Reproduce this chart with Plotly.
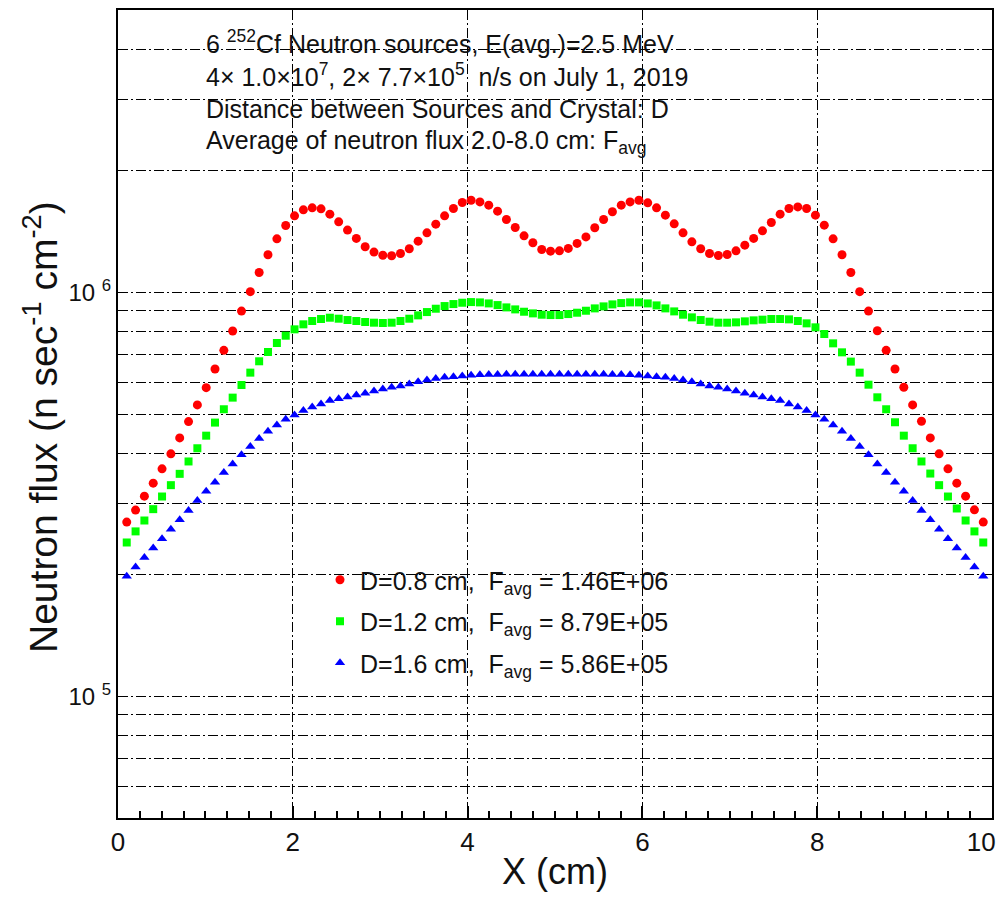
import plotly.graph_objects as go

# sample positions along the crystal (cm)
X = [0.100, 0.201, 0.302, 0.403, 0.504, 0.605, 0.706, 0.807, 0.908, 1.009,
     1.110, 1.211, 1.312, 1.413, 1.514, 1.615, 1.716, 1.818, 1.919, 2.020,
     2.121, 2.222, 2.323, 2.424, 2.525, 2.626, 2.727, 2.828, 2.929, 3.030,
     3.131, 3.232, 3.333, 3.434, 3.535, 3.636, 3.737, 3.838, 3.939, 4.040,
     4.141, 4.242, 4.343, 4.444, 4.545, 4.646, 4.747, 4.848, 4.949,
     5.051, 5.152, 5.253, 5.354, 5.455, 5.556, 5.657, 5.758, 5.859, 5.960,
     6.061, 6.162, 6.263, 6.364, 6.465, 6.566, 6.667, 6.768, 6.869, 6.970,
     7.071, 7.172, 7.273, 7.374, 7.475, 7.576, 7.677, 7.778, 7.879, 7.980,
     8.081, 8.182, 8.284, 8.385, 8.486, 8.587, 8.688, 8.789, 8.890, 8.991,
     9.092, 9.193, 9.294, 9.395, 9.496, 9.597, 9.698, 9.799, 9.900]

FLUX_D08 = [2.700e5, 2.891e5, 3.130e5, 3.371e5, 3.658e5, 3.984e5, 4.363e5, 4.788e5, 5.266e5, 5.810e5,
            6.463e5, 7.186e5, 8.022e5, 8.990e5, 1.004e6, 1.120e6, 1.239e6, 1.357e6, 1.464e6, 1.547e6,
            1.601e6, 1.619e6, 1.610e6, 1.562e6, 1.495e6, 1.426e6, 1.360e6, 1.297e6, 1.258e6, 1.236e6,
            1.232e6, 1.248e6, 1.282e6, 1.339e6, 1.404e6, 1.475e6, 1.547e6, 1.613e6, 1.669e6, 1.691e6,
            1.675e6, 1.644e6, 1.589e6, 1.515e6, 1.447e6, 1.380e6, 1.327e6, 1.277e6, 1.265e6,
            1.267e6, 1.285e6, 1.322e6, 1.372e6, 1.445e6, 1.515e6, 1.583e6, 1.644e6, 1.675e6, 1.691e6,
            1.666e6, 1.619e6, 1.553e6, 1.478e6, 1.404e6, 1.334e6, 1.282e6, 1.248e6, 1.234e6, 1.241e6,
            1.267e6, 1.309e6, 1.360e6, 1.420e6, 1.489e6, 1.562e6, 1.613e6, 1.628e6, 1.613e6, 1.553e6,
            1.467e6, 1.357e6, 1.239e6, 1.120e6, 1.004e6, 8.990e5, 8.037e5, 7.186e5, 6.463e5, 5.822e5,
            5.266e5, 4.797e5, 4.363e5, 3.984e5, 3.658e5, 3.371e5, 3.130e5, 2.896e5, 2.700e5]

FLUX_D12 = [2.404e5, 2.561e5, 2.725e5, 2.907e5, 3.124e5, 3.333e5, 3.555e5, 3.815e5, 4.113e5, 4.419e5,
            4.761e5, 5.137e5, 5.489e5, 5.898e5, 6.329e5, 6.752e5, 7.120e5, 7.494e5, 7.813e5, 8.101e5,
            8.335e5, 8.494e5, 8.591e5, 8.656e5, 8.607e5, 8.542e5, 8.494e5, 8.446e5, 8.414e5, 8.398e5,
            8.414e5, 8.494e5, 8.607e5, 8.772e5, 8.939e5, 9.111e5, 9.250e5, 9.356e5, 9.427e5, 9.463e5,
            9.445e5, 9.391e5, 9.302e5, 9.180e5, 9.076e5, 8.956e5, 8.872e5, 8.805e5, 8.788e5,
            8.788e5, 8.838e5, 8.906e5, 9.007e5, 9.128e5, 9.233e5, 9.338e5, 9.409e5, 9.445e5, 9.445e5,
            9.391e5, 9.285e5, 9.128e5, 8.973e5, 8.805e5, 8.673e5, 8.542e5, 8.462e5, 8.414e5, 8.414e5,
            8.430e5, 8.478e5, 8.526e5, 8.559e5, 8.591e5, 8.591e5, 8.575e5, 8.494e5, 8.382e5, 8.194e5,
            7.888e5, 7.480e5, 7.106e5, 6.740e5, 6.329e5, 5.909e5, 5.499e5, 5.137e5, 4.770e5, 4.419e5,
            4.113e5, 3.815e5, 3.561e5, 3.333e5, 3.124e5, 2.918e5, 2.725e5, 2.561e5, 2.404e5]

FLUX_D16 = [1.982e5, 2.090e5, 2.208e5, 2.328e5, 2.455e5, 2.594e5, 2.736e5, 2.885e5, 3.054e5, 3.221e5,
            3.391e5, 3.582e5, 3.762e5, 3.961e5, 4.153e5, 4.346e5, 4.532e5, 4.697e5, 4.853e5, 4.974e5,
            5.098e5, 5.205e5, 5.296e5, 5.397e5, 5.455e5, 5.511e5, 5.574e5, 5.627e5, 5.702e5, 5.767e5,
            5.822e5, 5.867e5, 5.934e5, 6.013e5, 6.070e5, 6.117e5, 6.163e5, 6.186e5, 6.210e5, 6.240e5,
            6.250e5, 6.260e5, 6.265e5, 6.270e5, 6.270e5, 6.270e5, 6.270e5, 6.270e5, 6.270e5,
            6.270e5, 6.270e5, 6.270e5, 6.270e5, 6.270e5, 6.270e5, 6.265e5, 6.260e5, 6.250e5, 6.240e5,
            6.210e5, 6.186e5, 6.163e5, 6.117e5, 6.070e5, 6.013e5, 5.934e5, 5.867e5, 5.822e5, 5.767e5,
            5.702e5, 5.627e5, 5.574e5, 5.511e5, 5.455e5, 5.397e5, 5.296e5, 5.205e5, 5.098e5, 4.974e5,
            4.853e5, 4.697e5, 4.532e5, 4.346e5, 4.153e5, 3.961e5, 3.762e5, 3.582e5, 3.391e5, 3.221e5,
            3.054e5, 2.885e5, 2.736e5, 2.594e5, 2.455e5, 2.328e5, 2.208e5, 2.090e5, 1.982e5]

SERIES_NAMES = ["D=0.8 cm, &nbsp;F<sub>avg</sub> = 1.46E+06",
                "D=1.2 cm, &nbsp;F<sub>avg</sub> = 8.79E+05",
                "D=1.6 cm, &nbsp;F<sub>avg</sub> = 5.86E+05"]
SERIES_COLORS = ["#ff0000", "#00ff00", "#0000ff"]
SERIES_SYMBOLS = ["circle", "square", "triangle-up"]
SERIES_SIZES = [9, 8, 9]

X_TICKS = [0, 2, 4, 6, 8, 10]
X_TICK_TEXT = ["0", "2", "4", "6", "8", "10&nbsp;&nbsp;&nbsp;"]
Y_GRID = [6e4, 7e4, 8e4, 9e4, 1e5, 2e5, 3e5, 4e5, 5e5, 6e5, 7e5, 8e5, 9e5,
          1e6, 2e6, 3e6, 4e6]
Y_LABELS = {1e5: "10 <sup>5</sup>", 1e6: "10 <sup>6</sup>"}

INFO_LINES = ["6 <sup>252</sup>Cf Neutron sources, E(avg.)=2.5 MeV",
              "4× 1.0×10<sup>7</sup>, 2× 7.7×10<sup>5</sup>  n/s on July 1, 2019",
              "Distance between Sources and Crystal: D",
              "Average of neutron flux 2.0-8.0 cm: F<sub>avg</sub>"]

FONT = "Liberation Sans, Arial, sans-serif"
GRID_DASH = "10px,3px,2px,3px"

fig = go.Figure()
for i, ys in enumerate([FLUX_D08, FLUX_D12, FLUX_D16]):
    fig.add_trace(go.Scatter(
        x=X, y=ys, mode="markers", name=SERIES_NAMES[i],
        legendgroup=f"g{i}",
        marker=dict(color=SERIES_COLORS[i], symbol=SERIES_SYMBOLS[i],
                    size=SERIES_SIZES[i], line=dict(width=0)),
    ))

# page has an 8px body margin; figure sized so that the page fits the window
OFF = 8
W, H = 1007 - 2 * OFF, 902 - 2 * OFF
PL, PR, PT, PB = 118, 992, 10, 818          # plot area in window pixels
L, T = PL - OFF, PT - OFF
R, B = W - (PR - OFF), H - (PB - OFF)
pw, ph = PR - PL, PB - PT


def px_x(p):
    return (p - PL) / pw


def px_y(p):
    return (PB - p) / ph


annotations = []
info_y = [42, 75, 109, 142]
for txt, yy in zip(INFO_LINES, info_y):
    annotations.append(dict(text=txt, x=px_x(204), y=px_y(yy), xref="paper", yref="paper",
                            xanchor="left", yanchor="middle", showarrow=False,
                            font=dict(family=FONT, size=25, color="#111111")))
annotations.append(dict(text="Neutron flux (n sec<sup>-1</sup> cm<sup>-2</sup>)",
                        x=px_x(40), y=px_y(427), xref="paper", yref="paper",
                        textangle=-90, showarrow=False, xanchor="center", yanchor="middle",
                        font=dict(family=FONT, size=39, color="#111111")))
annotations.append(dict(text="X (cm)", x=px_x(555), y=px_y(871), xref="paper", yref="paper",
                        showarrow=False, xanchor="center", yanchor="middle",
                        font=dict(family=FONT, size=36, color="#111111")))

fig.update_layout(
    width=W, height=H,
    margin=dict(l=L, r=R, t=T, b=B, autoexpand=False),
    paper_bgcolor="white", plot_bgcolor="white",
    font=dict(family=FONT, color="#111111"),
    annotations=annotations,
    showlegend=True,
    legend=dict(x=px_x(320), y=px_y(557), xanchor="left", yanchor="top",
                bgcolor="rgba(0,0,0,0)", font=dict(family=FONT, size=25, color="#111111"),
                tracegroupgap=6, itemsizing="trace"),
)

fig.update_xaxes(
    range=[0, 10], tickvals=X_TICKS, ticktext=X_TICK_TEXT,
    ticklabeloverflow="allow", automargin=False,
    showgrid=True, gridcolor="black", gridwidth=1.3, griddash=GRID_DASH,
    showline=True, linecolor="black", linewidth=2, mirror=True,
    ticks="inside", ticklen=12, tickwidth=1.5, tickcolor="black",
    minor=dict(dtick=0.25, tick0=0, ticks="inside", ticklen=7, tickwidth=1.5,
               tickcolor="black", showgrid=False),
    tickfont=dict(family=FONT, size=26, color="#111111"),
    zeroline=False,
)
fig.update_yaxes(
    type="log", range=[4.69897, 6.69897], automargin=False,
    tickvals=Y_GRID, ticktext=[Y_LABELS.get(v, "") for v in Y_GRID],
    showgrid=True, gridcolor="black", gridwidth=1.3, griddash=GRID_DASH,
    showline=True, linecolor="black", linewidth=2, mirror=True,
    ticks="", tickfont=dict(family=FONT, size=24, color="#111111"),
    zeroline=False,
)

fig.write_html("out.html")
